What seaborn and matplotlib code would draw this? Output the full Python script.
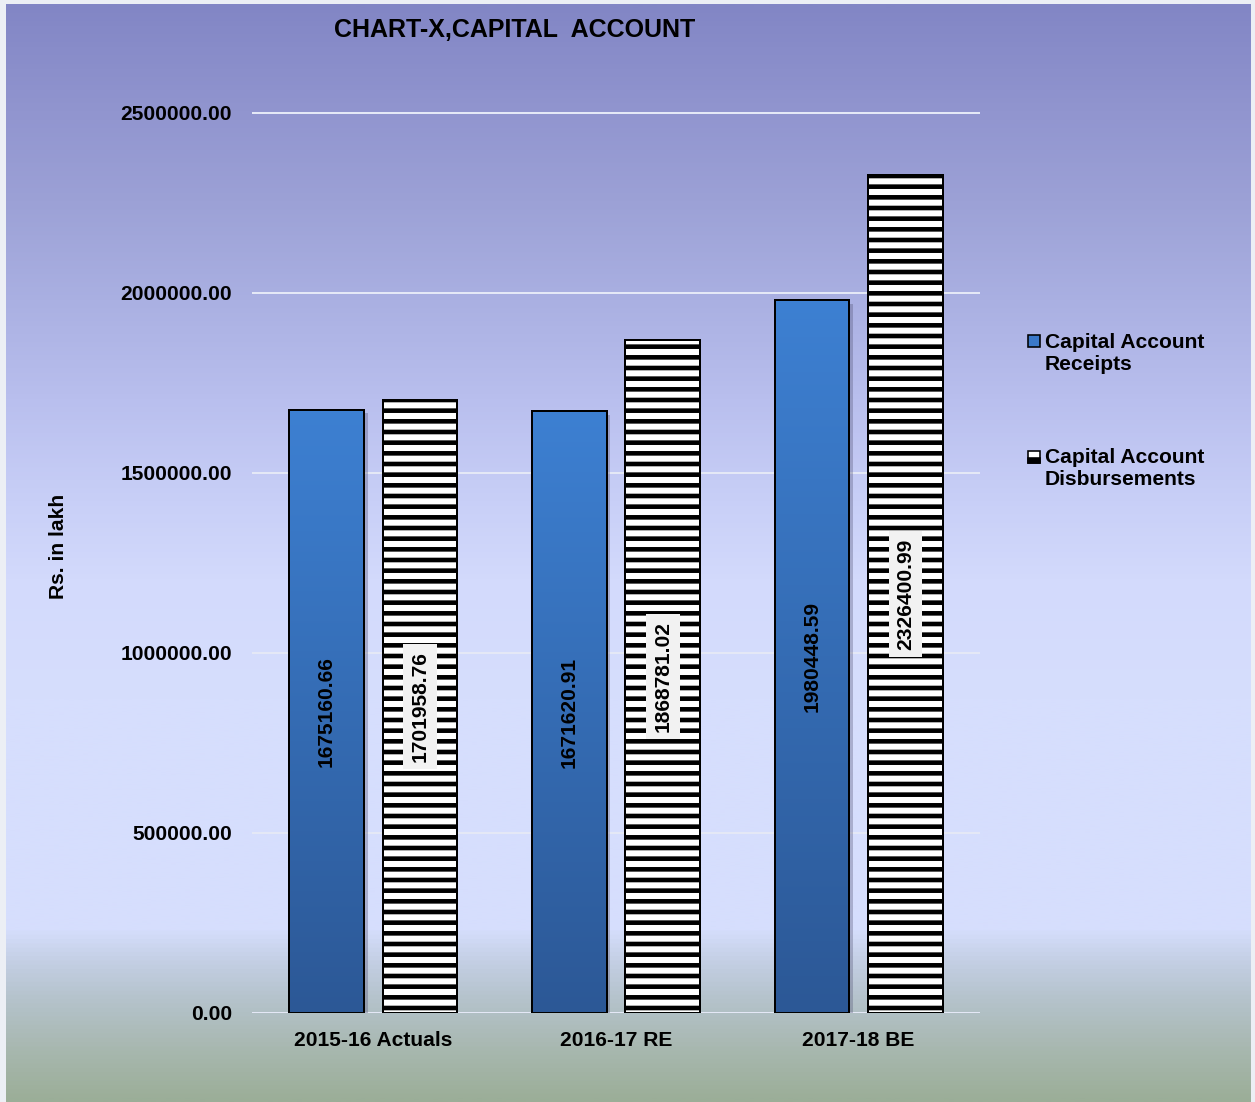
import numpy as np
import pandas as pd
import matplotlib
matplotlib.use("Agg")
import matplotlib.pyplot as plt
import seaborn as sns
from matplotlib.colors import LinearSegmentedColormap
from matplotlib.patches import Rectangle
import matplotlib.patheffects as pe

# ---------------- data ----------------
categories = ["2015-16 Actuals", "2016-17 RE", "2017-18 BE"]
receipts = [1675160.66, 1671620.91, 1980448.59]
disbursements = [1701958.76, 1868781.02, 2326400.99]
series_names = ["Capital Account\nReceipts", "Capital Account\nDisbursements"]
ytick_values = [0, 500000, 1000000, 1500000, 2000000, 2500000]
title = "CHART-X,CAPITAL  ACCOUNT"
ylabel = "Rs. in lakh"

# ---------------- setup ----------------
W, H, DPI = 1255, 1102, 128
PX = 72 / DPI  # points per pixel
FS = 21 * PX

sns.set_theme(style="white", rc={"text.color": "black", "xtick.color": "black",
                                 "ytick.color": "black", "axes.labelcolor": "black"})
plt.rcParams["font.family"] = ["Liberation Sans", "DejaVu Sans"]
plt.rcParams["hatch.linewidth"] = 2.6
plt.rcParams["hatch.color"] = "black"

fig = plt.figure(figsize=(W / DPI, H / DPI), dpi=DPI, facecolor="#eceff5")

# background gradient
bg = fig.add_axes([6 / W, 0, (1251 - 6) / W, (H - 4) / H], zorder=-10)
stops_px = [4, 110, 200, 300, 400, 500, 580, 700, 930, 960, 1000, 1050, 1102]
stops_col = ["#8286c5", "#9195cf", "#9ca1d6", "#aab0e2", "#b9bfee", "#c8cff7",
             "#d3dafc", "#d6defd", "#d6defd", "#c5d0e6", "#b5c3cc", "#a8b8b0", "#9bae98"]
pos = [(y - 4) / (H - 4) for y in stops_px]
bg_cmap = LinearSegmentedColormap.from_list("bg", list(zip(pos, stops_col)))
bg.imshow(np.linspace(0, 1, 1024).reshape(-1, 1), cmap=bg_cmap, aspect="auto",
          extent=[0, 1, 0, 1], origin="upper", interpolation="bilinear")
bg.set_axis_off()

# main axes
ytop = 2.51e6
top_px = 1013 - ytop / 2.5e6 * 900
ax = fig.add_axes([252 / W, (H - 1013) / H, (980 - 252) / W, (1013 - top_px) / H])
ax.patch.set_alpha(0)

df = pd.DataFrame({
    "cat": categories * 2,
    "series": [series_names[0]] * len(categories) + [series_names[1]] * len(categories),
    "val": receipts + disbursements,
})
sns.barplot(data=df, x="cat", y="val", hue="series", order=categories,
            hue_order=series_names, palette=["#3470b8", "white"], width=0.77, gap=0.2,
            edgecolor="black", linewidth=2 * PX, ax=ax, legend=False,
            errorbar=None, saturation=1)

rc, dc = ax.containers[0], ax.containers[1]
shadow = [pe.SimplePatchShadow(offset=(2, -2), shadow_rgbFace="#555577", alpha=0.35), pe.Normal()]
for p in dc:
    p.set_hatch("--")
    p.set_facecolor("white")
    p.set_zorder(2)

bar_cmap = LinearSegmentedColormap.from_list("bar", ["#3d80d2", "#2c5896"])
for p in rc:
    x0, w, h = p.get_x(), p.get_width(), p.get_height()
    p.set_zorder(2)
    p.set_path_effects(shadow)
    im = ax.imshow(np.linspace(0, 1, 256).reshape(-1, 1), cmap=bar_cmap, aspect="auto",
                   extent=[x0, x0 + w, 0, h], origin="upper", zorder=2.1,
                   interpolation="bilinear")
    im.set_clip_path(p)
    ax.add_patch(Rectangle((x0, 0), w, h, fill=False, edgecolor="black",
                           linewidth=2 * PX, zorder=2.2))

ax.bar_label(rc, labels=[f"{v:.2f}" for v in receipts], label_type="center",
             rotation=90, fontsize=FS, fontweight="bold", color="black")
ax.bar_label(dc, labels=[f"{v:.2f}" for v in disbursements], label_type="center",
             rotation=90, fontsize=FS, fontweight="bold", color="black",
             bbox=dict(boxstyle="square,pad=0.35", facecolor="#f2f2f2", edgecolor="none"))

ax.set_xlim(-0.5, len(categories) - 0.5)
ax.set_ylim(0, ytop)
ax.set_yticks(ytick_values)
ax.set_yticklabels([f"{v:.2f}" for v in ytick_values])
ax.tick_params(axis="both", length=0, labelsize=FS)
ax.tick_params(axis="y", pad=20 * PX)
ax.tick_params(axis="x", pad=18 * PX)
for lab in ax.get_xticklabels() + ax.get_yticklabels():
    lab.set_fontweight("bold")
ax.grid(axis="y", color="#e4e8f6", linewidth=2 * PX)
ax.grid(axis="x", visible=False)
ax.set_axisbelow(True)
sns.despine(ax=ax, left=True, bottom=True)
ax.set_xlabel("")
ax.set_ylabel("")

# title and y label
fig.text(515 / W, 1 - 30 / H, title, ha="center", va="center",
         fontsize=25 * PX, fontweight="bold")
fig.text(58 / W, 1 - 546 / H, ylabel, rotation=90, ha="center", va="center",
         fontsize=FS, fontweight="bold")

# legend (manual, handles aligned with first line)
def handle(y_center, kind):
    x0, s = 1028 / W, 12
    yb = 1 - (y_center + s / 2) / H
    if kind == 0:
        fig.add_artist(Rectangle((x0, yb), s / W, s / H, transform=fig.transFigure,
                                 facecolor="#3a78c8", edgecolor="black", linewidth=1.6 * PX))
    else:
        fig.add_artist(Rectangle((x0, yb), s / W, s / H, transform=fig.transFigure,
                                 facecolor="white", edgecolor="black", linewidth=1.6 * PX))
        fig.add_artist(Rectangle((x0, yb), s / W, s * 0.4 / H, transform=fig.transFigure,
                                 facecolor="black", edgecolor="black", linewidth=1.6 * PX))

for i, (name, yc) in enumerate(zip(series_names, [341, 457])):
    handle(yc, i)
    fig.text(1045 / W, 1 - (yc + 12) / H, name, ha="left", va="center",
             fontsize=FS, fontweight="bold", linespacing=1.2)

fig.savefig("out.png", dpi=DPI, facecolor=fig.get_facecolor())
